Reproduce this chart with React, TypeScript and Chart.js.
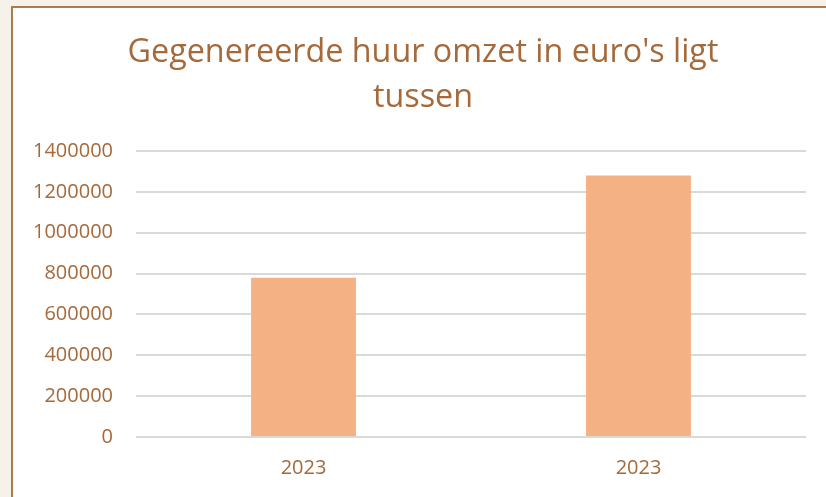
import React, { useEffect, useRef } from "react";
import { Chart, registerables } from "chart.js";

Chart.register(...registerables);

const categories = ["2023", "2023"];
const revenue = [780000, 1280000];
const titleLines = ["Gegenereerde huur omzet in euro's ligt", "tussen"];
const yMax = 1400000;
const yStep = 200000;

const TEXT = "#a5693a";

const titlePlugin = {
  id: "centeredTitle",
  afterDraw(chart: any) {
    const ctx = chart.ctx;
    ctx.save();
    ctx.fillStyle = TEXT;
    ctx.font = "normal 32.3px 'Open Sans'";
    ctx.textAlign = "center";
    ctx.textBaseline = "alphabetic";
    const cx = 410;
    titleLines.forEach((line, i) => {
      ctx.fillText(line, cx, 53.7 + i * 45.6);
    });
    ctx.restore();
  },
};

export default function App() {
  const ref = useRef<HTMLCanvasElement | null>(null);
  useEffect(() => {
    document.body.style.margin = "0";
    const chart = new Chart(ref.current!, {
      type: "bar",
      data: {
        labels: categories,
        datasets: [
          {
            data: revenue,
            backgroundColor: "#f4b183",
            borderWidth: 0,
            categoryPercentage: 0.313,
            barPercentage: 1,
          },
        ],
      },
      plugins: [titlePlugin],
      options: {
        animation: false,
        responsive: false,
        layout: { padding: { left: 0, right: 20, top: 143, bottom: 0 } },
        plugins: {
          legend: { display: false },
          tooltip: { enabled: false },
          title: { display: false },
        },
        scales: {
          x: {
            afterFit: (s: any) => { s.height = 60; },
            grid: { display: false, drawTicks: false },
            border: { display: false },
            ticks: { color: TEXT, font: { family: "Open Sans", size: 20 }, padding: 19 },
          },
          y: {
            min: 0,
            max: yMax,
            afterFit: (s: any) => { s.width = 123; },
            grid: { color: "#d9d9d9", lineWidth: 2, drawTicks: false },
            border: { display: false },
            ticks: {
              stepSize: yStep,
              color: TEXT,
              font: { family: "Open Sans", size: 20 },
              padding: 23,
              callback: (v: any) => String(v),
            },
          },
        },
      },
    });
    return () => chart.destroy();
  }, []);
  return (
    <div style={{ position: "relative", width: 826, height: 497, background: "#f6f1e9", overflow: "hidden" }}>
      <div
        style={{
          position: "absolute",
          left: 11,
          top: 6,
          width: 840,
          height: 510,
          border: "2px solid #b07a48",
          background: "#ffffff",
        }}
      >
        <canvas ref={ref} width={813} height={489} style={{ display: "block" }} />
      </div>
    </div>
  );
}
